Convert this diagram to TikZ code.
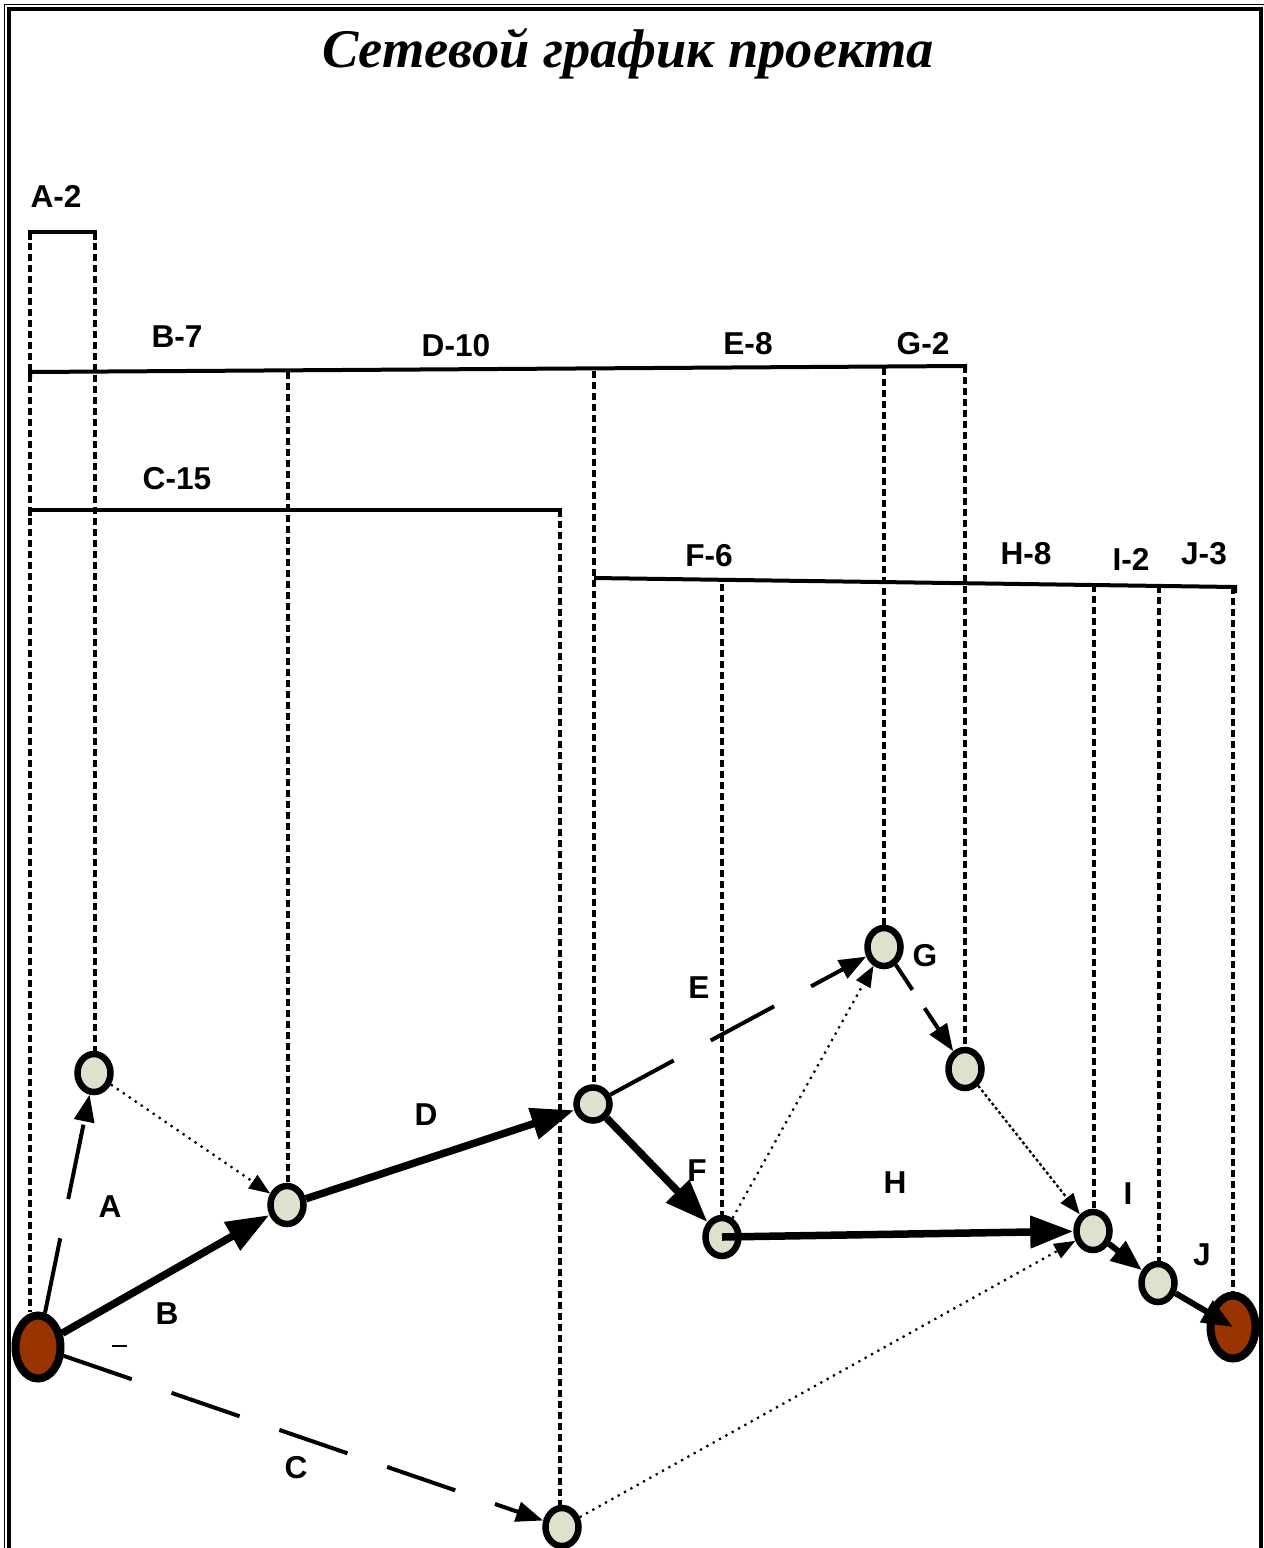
\documentclass[tikz,border=0pt]{standalone}
\usepackage{fontspec}
\setmainfont{Liberation Serif}
\newfontfamily\labfont{Liberation Sans}
\usetikzlibrary{shapes.geometric,arrows.meta,backgrounds}
\definecolor{nodefill}{HTML}{DDE2CC}
\definecolor{termfill}{HTML}{993300}
\begin{document}
\begin{tikzpicture}[x=0.2mm,y=-0.2mm,
 evt/.style={ellipse,draw=black,fill=nodefill,line width=1.3mm,inner sep=0pt,minimum width=6.6mm,minimum height=7.6mm},
 term/.style={evt,fill=termfill,line width=1.6mm,minimum width=9mm,minimum height=12.6mm},
 lab/.style={font={\labfont\bfseries\fontsize{18}{21}\selectfont},inner sep=0pt},
 guide/.style={line width=0.8mm,dash pattern=on 1.4mm off 0.8mm},
 bar/.style={line width=0.8mm},
 crit/.style={line width=1.5mm,-{Triangle[length=8.6mm,width=6.2mm]}},
 crit2/.style={line width=1.2mm,-{Triangle[length=6.2mm,width=4.8mm]}},
 dashact/.style={line width=0.8mm,-{Triangle[length=5.4mm,width=4mm]}},
 dummy/.style={line width=0.45mm,dash pattern=on 0.45mm off 1mm,-{Triangle[length=4.2mm,width=3.2mm]}},
]
\useasboundingbox (0,0) rectangle (1263,1548);

% frame
\draw[line width=0.2mm] (4,4.5) rectangle (1266,1600);
\draw[line width=0.8mm] (9,9) rectangle (1261,1600);

% title
\node[font={\bfseries\itshape\fontsize{31}{37}\selectfont},inner sep=0pt,anchor=base] (title) at (628,68) {Сетевой график проекта};

% events
\node[term] (s) at (38,1347) {};
\node[evt] (n1) at (94,1073) {};
\node[evt] (n2) at (287,1205) {};
\node[evt,minimum height=6.6mm] (n3) at (593,1104) {};
\node[evt] (n4) at (722,1237) {};
\node[evt] (n5) at (884,947) {};
\node[evt] (n6) at (965,1069) {};
\node[evt] (n7) at (1093,1231) {};
\node[evt] (n8) at (1158,1283) {};
\node[term] (e) at (1233,1327) {};
\node[evt] (nc) at (562,1527) {};

\begin{scope}[on background layer]
% guide lines
\draw[guide] (30,232) -- (30,232 |- s.north);
\draw[guide] (95,232) -- (95,232 |- n1.north);
\draw[guide] (288,372) -- (288,372 |- n2.north);
\draw[guide] (560,510) -- (560,510 |- nc.north);
\draw[guide] (594,371) -- (594,371 |- n3.north);
\draw[guide] (722,584) -- (722,584 |- n4.north);
\draw[guide] (884,368) -- (884,368 |- n5.north);
\draw[guide] (965,366) -- (965,366 |- n6.north);
\draw[guide] (1094,585) -- (1094,585 |- n7.north);
\draw[guide] (1159,586) -- (1159,586 |- n8.north);
\draw[guide] (1233,587) -- (1233,587 |- e.north);
% bars
\draw[bar] (30,240) -- (30,232) -- (95,232) -- (95,240);
\draw[bar] (30,378) -- (30,372) -- (965,366) -- (965,372);
\draw[bar] (30,516) -- (30,510) -- (560,510) -- (560,516);
\draw[bar] (594,578) -- (1235,587) -- (1235,593);
\end{scope}

% bar labels
\node[lab] (lA2) at (56,196) {A-2};
\node[lab] (lB7) at (177,337) {B-7};
\node[lab] (lD10) at (456,346) {D-10};
\node[lab] (lE8) at (748,344) {E-8};
\node[lab] (lG2) at (923,344) {G-2};
\node[lab] (lC15) at (177,479) {C-15};
\node[lab] (lF6) at (709,556) {F-6};
\node[lab] (lH8) at (1026,554) {H-8};
\node[lab] (lI2) at (1131,559) {I-2};
\node[lab] (lJ3) at (1204,554) {J-3};

% activities
\draw[dashact,dash pattern=on 15.2mm off 8mm] (s) -- (n1);
\draw[crit] (s) -- (n2);
\draw[dashact,dash pattern=on 14.4mm off 8.4mm] (s) -- (nc);
\draw[crit] (n2) -- (n3);
\draw[dashact,dash pattern=on 14.4mm off 8.4mm] (n3) -- (n5);
\draw[crit] (n3) -- (n4);
\draw[dashact,dash pattern=on 6mm off 4.4mm] (n5) -- (n6);
\draw[crit] (n4.center) -- (n7);
\draw[crit2] (n7) -- (n8);
\draw[crit2] (n8) -- (e.center);
% dummy activities
\draw[dummy] (n1) -- (n2);
\draw[dummy] (n4) -- (n5);
\draw[dummy,dash pattern=on 0.6mm off 0.5mm] (n6) -- (n7);
\draw[dummy] (nc) -- (n7);

% activity labels
\node[lab] (tA) at (110,1207) {A};
\node[lab] (tB) at (167,1314) {B};
\node[lab] (tC) at (296,1468) {C};
\node[lab] (tD) at (426,1115) {D};
\node[lab] (tE) at (699,988) {E};
\node[lab] (tF) at (697,1171) {F};
\node[lab] (tG) at (925,956) {G};
\node[lab] (tH) at (895,1183) {H};
\node[lab] (tI) at (1128,1194) {I};
\node[lab] (tJ) at (1202,1255) {J};
\coordinate (m1) at (112,1346);
\coordinate (m2) at (127,1346);
\draw[line width=0.4mm] (m1) -- (m2);
\end{tikzpicture}
\end{document}
